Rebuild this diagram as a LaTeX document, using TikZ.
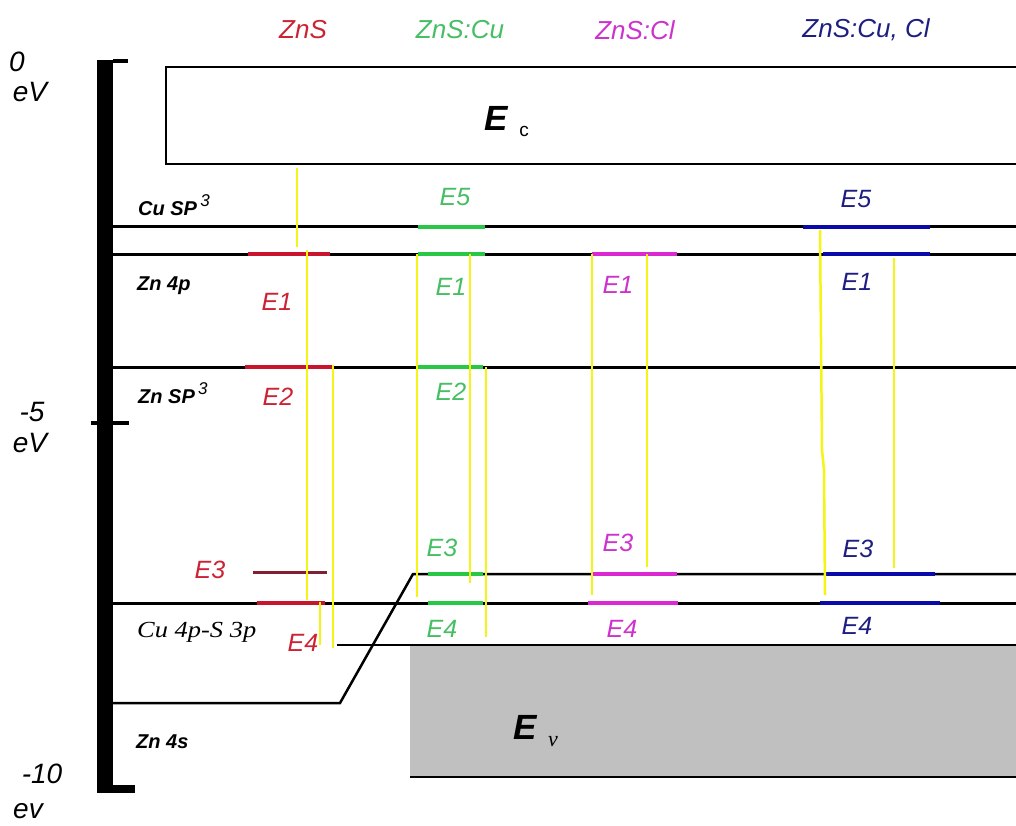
\documentclass[tikz,border=0pt]{standalone}
\usepackage{fontspec}
\setmainfont{Liberation Sans}
\newfontfamily\timesfont{Liberation Serif}

\definecolor{zred}{RGB}{204,34,51}
\definecolor{zredline}{RGB}{200,20,45}
\definecolor{zmaroon}{RGB}{128,32,48}
\definecolor{zgreen}{RGB}{70,190,100}
\definecolor{zgreenline}{RGB}{40,200,70}
\definecolor{zmag}{RGB}{205,50,205}
\definecolor{zmagline}{RGB}{220,40,210}
\definecolor{zblue}{RGB}{30,30,130}
\definecolor{zblueline}{RGB}{10,10,170}
\definecolor{zyel}{RGB}{245,245,20}
\definecolor{vgray}{RGB}{192,192,192}

\tikzset{
  lvl/.style={line width=3pt, black},
  seg/.style={line width=4pt},
  ylw/.style={draw=zyel, line width=2.5pt},
  elab/.style={font=\fontsize{25}{25}\selectfont\itshape, inner sep=0pt},
  hdr/.style={font=\fontsize{26}{26}\selectfont\itshape, inner sep=0pt},
  orb/.style={font=\fontsize{20}{20}\selectfont\bfseries\itshape, inner sep=0pt, anchor=base west},
  axl/.style={font=\fontsize{28}{28}\selectfont\itshape, inner sep=0pt},
}

\begin{document}
\begin{tikzpicture}[x=1pt,y=-1pt]
\clip (0,0) rectangle (1016,826);
\fill[white] (0,0) rectangle (1016,826);

% energy axis
\fill[black] (97,60) rectangle (113,793);
\fill[black] (113,59.5) rectangle (128,63);
\draw[line width=4pt] (91,423) -- (129,423);
\fill[black] (113,785) rectangle (135,793);

\node[axl] (ax0) at (17,62) {0};
\node[axl] (ax0u) at (30,92) {eV};
\node[axl] (ax5) at (32,412) {-5};
\node[axl] (ax5u) at (30,443) {eV};
\node[axl] (ax10) at (42,774) {-10};
\node[axl] (ax10u) at (28,811) {ev};

% conduction band
\draw[line width=2pt] (1030,67) -- (166,67) -- (166,164) -- (1030,164);
\node[inner sep=0pt] (Ec) at (496,118) {\fontsize{35}{35}\selectfont\bfseries\itshape E};
\node[inner sep=0pt] (Ecs) at (524,131) {\fontsize{19}{19}\selectfont c};

% valence band
\fill[vgray] (410,645) rectangle (1030,777);
\draw[line width=2pt] (337,645) -- (1030,645);
\draw[line width=2pt] (410,777) -- (1030,777);
\node[inner sep=0pt] (Ev) at (525,727) {\fontsize{35}{35}\selectfont\bfseries\itshape E};
\node[inner sep=0pt] (Evs) at (553,742) {\fontsize{22}{22}\selectfont\timesfont\itshape v};

% atomic levels
\draw[lvl] (113,227) -- (1030,227);
\draw[lvl] (113,254) -- (1030,254);
\draw[lvl] (113,367) -- (1030,367);
\draw[lvl] (113,603) -- (1030,603);
\draw[lvl, line width=2.5pt] (113,703) -- (340,703) -- (413,574) -- (1030,574);

\node[orb] (cusp) at (138,215) {Cu SP\,\raisebox{9pt}{\fontsize{17}{17}\selectfont\mdseries 3}};
\node[orb] (zn4p) at (137,290) {Zn 4p};
\node[orb] (znsp) at (138,403) {Zn SP\,\raisebox{9pt}{\fontsize{17}{17}\selectfont\mdseries 3}};
\node[inner sep=0pt, anchor=base west, xscale=1.15] (cu4p) at (137,637) {\fontsize{23}{23}\selectfont\timesfont\itshape Cu 4p-S 3p};
\node[orb] (zn4s) at (136,748) {Zn 4s};

% column headings
\node[hdr, text=zred] (hZnS) at (303,30) {ZnS};
\node[hdr, text=zgreen] (hCu) at (460,30) {ZnS:Cu};
\node[hdr, text=zmag] (hCl) at (635,30) {ZnS:Cl};
\node[hdr, text=zblue] (hCuCl) at (866,30) {ZnS:Cu, Cl};

% ZnS
\draw[seg, zredline] (248,254) -- (330,254);
\draw[seg, zredline] (245,367) -- (333,367);
\draw[seg, zmaroon, line width=3pt] (253,572) -- (327,572);
\draw[seg, zredline] (257,603) -- (325,603);
\node[elab, text=zred] (r1) at (277,302) {E1};
\node[elab, text=zred] (r2) at (278,397) {E2};
\node[elab, text=zred] (r3) at (210,570) {E3};
\node[elab, text=zred] (r4) at (303,643) {E4};

% ZnS:Cu
\draw[seg, zgreenline] (418,227) -- (485,227);
\draw[seg, zgreenline] (418,254) -- (485,254);
\draw[seg, zgreenline] (418,367) -- (483,367);
\draw[seg, zgreenline] (428,574) -- (483,574);
\draw[seg, zgreenline] (428,603) -- (483,603);
\node[elab, text=zgreen] (g5) at (455,197) {E5};
\node[elab, text=zgreen] (g1) at (451,287) {E1};
\node[elab, text=zgreen] (g2) at (451,392) {E2};
\node[elab, text=zgreen] (g3) at (442,548) {E3};
\node[elab, text=zgreen] (g4) at (442,629) {E4};

% ZnS:Cl
\draw[seg, zmagline] (592,254) -- (677,254);
\draw[seg, zmagline] (593,574) -- (677,574);
\draw[seg, zmagline] (588,603) -- (678,603);
\node[elab, text=zmag] (m1) at (618,285) {E1};
\node[elab, text=zmag] (m3) at (618,543) {E3};
\node[elab, text=zmag] (m4) at (622,629) {E4};

% ZnS:Cu, Cl
\draw[seg, zblueline] (803,227) -- (930,227);
\draw[seg, zblueline] (823,254) -- (930,254);
\draw[seg, zblueline] (825,574) -- (935,574);
\draw[seg, zblueline] (820,603) -- (940,603);
\node[elab, text=zblue] (b5) at (856,199) {E5};
\node[elab, text=zblue] (b1) at (857,282) {E1};
\node[elab, text=zblue] (b3) at (858,549) {E3};
\node[elab, text=zblue] (b4) at (857,626) {E4};

% transitions
\draw[ylw] (297,168) -- (297,247);
\draw[ylw] (307,250) -- (307,600);
\draw[ylw] (333,365) -- (333,648);
\draw[ylw, line width=1.5pt] (320,602) -- (320,645);
\draw[ylw] (417,254) -- (417,597);
\draw[ylw] (470,254) -- (470,583);
\draw[ylw] (486,367) -- (486,637);
\draw[ylw] (592,254) -- (592,595);
\draw[ylw] (647,254) -- (647,567);
\draw[ylw] (820,230) -- (822,450) -- (824,470) -- (825,595);
\draw[ylw] (894,258) -- (894,568);
\end{tikzpicture}
\end{document}
